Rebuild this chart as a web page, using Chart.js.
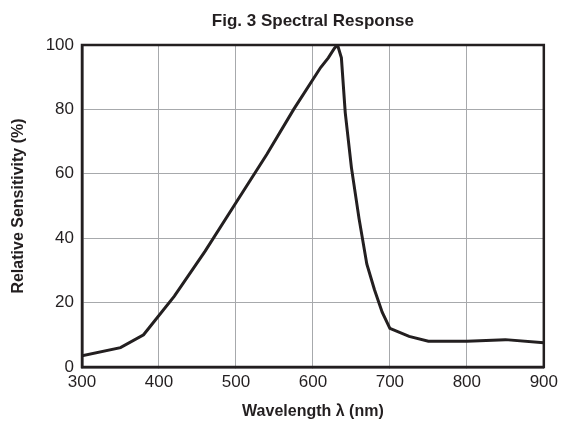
<!DOCTYPE html>
<html>
<head>
<meta charset="utf-8">
<script src="https://cdn.jsdelivr.net/npm/chart.js@4/dist/chart.umd.min.js"></script>
<style>
  html, body { margin: 0; padding: 0; background: #fff; }
  #wrap { width: 563px; height: 427px; position: relative; }
</style>
</head>
<body>
<div id="wrap"><canvas id="chart" width="563" height="427"></canvas></div>
<script>
// wavelength (nm) and relative sensitivity (%)
const wavelengths = [300, 350, 380, 420, 460, 500, 540, 575, 610, 620, 628, 632, 637, 642, 650, 660, 670, 680, 690, 700, 725, 750, 800, 850, 900];
const sensitivity = [3.5, 6, 10, 22, 36, 51, 66, 80, 93, 96, 99, 100, 96, 79, 62, 46, 32, 24, 17, 12, 9.5, 8, 8, 8.5, 7.5];

const titleText = 'Fig. 3 Spectral Response';
const xTitle = 'Wavelength \u03bb (nm)';
const yTitle = 'Relative Sensitivity (%)';

const points = wavelengths.map((w, i) => ({ x: w, y: sensitivity[i] }));

// draws the chart title above the plot area and a frame round it
const framePlugin = {
    id: 'frame',
    afterDraw(chart) {
        const ctx = chart.ctx;
        const a = chart.chartArea;
        ctx.save();
        ctx.strokeStyle = '#231f20';
        ctx.lineWidth = 2.5;
        ctx.strokeRect(a.left, a.top, a.right - a.left, a.bottom - a.top);
        ctx.fillStyle = '#231f20';
        ctx.font = 'bold 17px "Liberation Sans", Arial, sans-serif';
        ctx.textAlign = 'center';
        ctx.textBaseline = 'middle';
        ctx.fillText(titleText, (a.left + a.right) / 2, 21);
        ctx.restore();
    }
};

const chart = new Chart(document.getElementById('chart').getContext('2d'), {
    type: 'line',
    data: {
        datasets: [{
            data: points,
            borderColor: '#231f20',
            borderWidth: 3,
            pointRadius: 0,
            fill: false,
            tension: 0
        }]
    },
    options: {
        responsive: false,
        animation: false,
        layout: { padding: { left: 9, top: 45, right: 18, bottom: 6 } },
        plugins: {
            legend: { display: false },
            tooltip: { enabled: false }
        },
        scales: {
            x: {
                type: 'linear',
                min: 300,
                max: 900,
                ticks: {
                    stepSize: 100,
                    color: '#231f20',
                    font: { family: '"Liberation Sans", Arial, sans-serif', size: 17 },
                    padding: 5
                },
                grid: { color: '#a7a9ac', lineWidth: 1, tickLength: 0 },
                border: { color: '#231f20', width: 2.5 },
                title: {
                    display: true,
                    text: xTitle,
                    color: '#231f20',
                    font: { family: '"Liberation Sans", Arial, sans-serif', size: 16, weight: 'bold' },
                    padding: { top: 6, bottom: 0 }
                },
                afterFit(scale) { scale.height = 54; }
            },
            y: {
                min: 0,
                max: 100,
                ticks: {
                    stepSize: 20,
                    color: '#231f20',
                    font: { family: '"Liberation Sans", Arial, sans-serif', size: 17 },
                    padding: 8
                },
                grid: { color: '#a7a9ac', lineWidth: 1, tickLength: 0 },
                border: { color: '#231f20', width: 2.5 },
                title: {
                    display: true,
                    text: yTitle,
                    color: '#231f20',
                    font: { family: '"Liberation Sans", Arial, sans-serif', size: 16, weight: 'bold' },
                    padding: { top: 0, bottom: 8 }
                },
                afterFit(scale) { scale.width = 73; }
            }
        }
    },
    plugins: [framePlugin]
});
</script>
</body>
</html>
